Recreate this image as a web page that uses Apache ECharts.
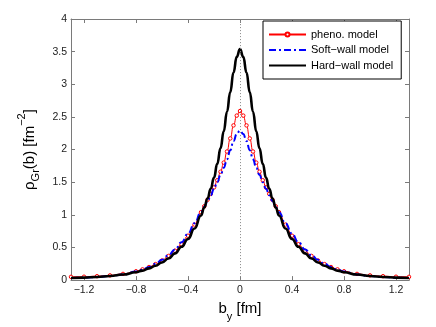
<!DOCTYPE html>
<html>
<head>
<meta charset="utf-8">
<script src="https://cdn.jsdelivr.net/npm/echarts@6/dist/echarts.min.js"></script>
<style>html,body{margin:0;padding:0;background:#fff}#c{width:436px;height:327px}</style>
</head>
<body>
<div id="c"></div>
<script>
const bValues = [-1.3,-1.2,-1.1,-1.0,-0.9,-0.8,-0.75,-0.7,-0.65,-0.6,-0.55,-0.5,-0.45,-0.4,-0.35,-0.3,-0.275,-0.25,-0.225,-0.2,-0.175,-0.15,-0.125,-0.1,-0.075,-0.05,-0.025,0,0.025,0.05,0.075,0.1,0.125,0.15,0.175,0.2,0.225,0.25,0.275,0.3,0.35,0.4,0.45,0.5,0.55,0.6,0.65,0.7,0.75,0.8,0.9,1.0,1.1,1.2,1.3];
const phenoModel = [0.05,0.052,0.06,0.072,0.095,0.135,0.165,0.20,0.245,0.30,0.37,0.45,0.55,0.68,0.85,1.04,1.13,1.23,1.32,1.42,1.53,1.66,1.80,1.97,2.17,2.37,2.52,2.59,2.52,2.37,2.17,1.97,1.80,1.66,1.53,1.42,1.32,1.23,1.13,1.04,0.85,0.68,0.55,0.45,0.37,0.30,0.245,0.20,0.165,0.135,0.095,0.072,0.06,0.052,0.05];
const softWallModel = [0.031,0.037,0.047,0.062,0.087,0.13,0.16,0.20,0.25,0.31,0.38,0.47,0.58,0.71,0.87,1.04,1.12,1.21,1.30,1.40,1.50,1.61,1.72,1.85,1.99,2.13,2.24,2.29,2.24,2.13,1.99,1.85,1.72,1.61,1.50,1.40,1.30,1.21,1.12,1.04,0.87,0.71,0.58,0.47,0.38,0.31,0.25,0.20,0.16,0.13,0.087,0.062,0.047,0.037,0.031];
const hardWallModel = [0.032,0.038,0.048,0.062,0.085,0.12,0.145,0.18,0.22,0.27,0.33,0.41,0.51,0.63,0.79,0.99,1.11,1.25,1.40,1.57,1.78,2.02,2.28,2.58,2.88,3.18,3.42,3.54,3.42,3.18,2.88,2.58,2.28,2.02,1.78,1.57,1.40,1.25,1.11,0.99,0.79,0.63,0.51,0.41,0.33,0.27,0.22,0.18,0.145,0.12,0.085,0.062,0.048,0.038,0.032];
const xTicks = [-1.2,-0.8,-0.4,0,0.4,0.8,1.2];
const yTicks = [0,0.5,1,1.5,2,2.5,3,3.5,4];
const seriesNames = ['pheno. model','Soft\u2212wall model','Hard\u2212wall model'];

const pairs = arr => bValues.map((x,i)=>[x,arr[i]]);
const FONT = 'Liberation Sans, Arial, sans-serif';
const axisGray = '#7a7a7a';
const fmt = v => String(v).replace('-', '\u2212');

const chart = echarts.init(document.getElementById('c'), null, {renderer:'canvas'});
const xBase = {type:'value', min:-1.3, max:1.3, axisLine:{onZero:false,lineStyle:{color:axisGray,width:1}}, splitLine:{show:false}};
const yBase = {type:'value', min:0, max:4, interval:0.5, axisLine:{show:true,onZero:false,lineStyle:{color:axisGray,width:1}}, splitLine:{show:false}};
chart.setOption({
  animation:false,
  backgroundColor:'#fff',
  grid:{left:71, top:19, width:338, height:265, containLabel:false},
  legend:{
    orient:'vertical', left:263, top:21,
    padding:[8,8,8,5], itemGap:4.5, itemWidth:37, itemHeight:5,
    backgroundColor:'#fff', borderColor:'#000', borderWidth:1,
    textStyle:{fontFamily:FONT, fontSize:11, color:'#000'},
    data:[
      {name:seriesNames[0]},
      {name:seriesNames[1], itemStyle:{opacity:0}},
      {name:seriesNames[2], itemStyle:{opacity:0}}
    ]
  },
  xAxis:[
    Object.assign({}, xBase, {position:'bottom',
      axisTick:{inside:true,length:4,customValues:xTicks,lineStyle:{color:axisGray}},
      axisLabel:{customValues:xTicks, formatter:fmt, fontFamily:FONT, fontSize:10.5, color:'#222', margin:5},
      name:'{b|b}{s|y}{b| [fm]}', nameLocation:'middle', nameGap:12,
      nameTextStyle:{rich:{b:{fontFamily:FONT,fontSize:15,color:'#000',verticalAlign:'top',padding:[0,0,0,0]}, s:{fontFamily:FONT,fontSize:11,color:'#000',verticalAlign:'top',padding:[10,0,0,0]}}}
    }),
    Object.assign({}, xBase, {position:'top',
      axisTick:{inside:true,length:4,customValues:xTicks,lineStyle:{color:axisGray}},
      axisLabel:{show:false}})
  ],
  yAxis:[
    Object.assign({}, yBase, {position:'left',
      axisTick:{inside:true,length:4,lineStyle:{color:axisGray}},
      axisLabel:{customValues:yTicks, fontFamily:FONT, fontSize:10.5, color:'#222', margin:4},
      name:'{b|\u03c1}{s|Gr}{b|(b) [fm}{p|\u22122}{b|]}', nameLocation:'middle', nameRotate:90, nameGap:32,
      nameTextStyle:{rich:{
        b:{fontFamily:FONT,fontSize:15,color:'#000',verticalAlign:'bottom',padding:[6,0,0,0]},
        s:{fontFamily:FONT,fontSize:11,color:'#000',verticalAlign:'bottom',padding:[0,0,-4,0]},
        p:{fontFamily:FONT,fontSize:11,color:'#000',verticalAlign:'top',padding:[0,0,10,0]}}}
    }),
    Object.assign({}, yBase, {position:'right',
      axisTick:{inside:true,length:4,lineStyle:{color:axisGray}},
      axisLabel:{show:false}})
  ],
  series:[
    {name:seriesNames[0], type:'line', data:pairs(phenoModel), smooth:true, smoothMonotone:'x',
     symbol:'circle', symbolSize:3.5, showSymbol:true,
     lineStyle:{color:'#ff0000',width:1}, itemStyle:{color:'#fff',borderColor:'#ff0000',borderWidth:1},
     markLine:{silent:true, symbol:['none','none'], label:{show:false},
       lineStyle:{type:[1,2],color:'#888',width:1}, data:[{xAxis:0}]}, z:2},
    {name:seriesNames[1], type:'line', data:pairs(softWallModel), smooth:true, smoothMonotone:'x',
     symbol:'none', lineStyle:{color:'#0000ff',width:2,type:[7,3,2,3]}, itemStyle:{color:'#0000ff'}, z:3},
    {name:seriesNames[2], type:'line', data:pairs(hardWallModel), smooth:true, smoothMonotone:'x',
     symbol:'none', lineStyle:{color:'#000',width:2.6}, itemStyle:{color:'#000'}, z:4}
  ]
});
</script>
</body>
</html>
